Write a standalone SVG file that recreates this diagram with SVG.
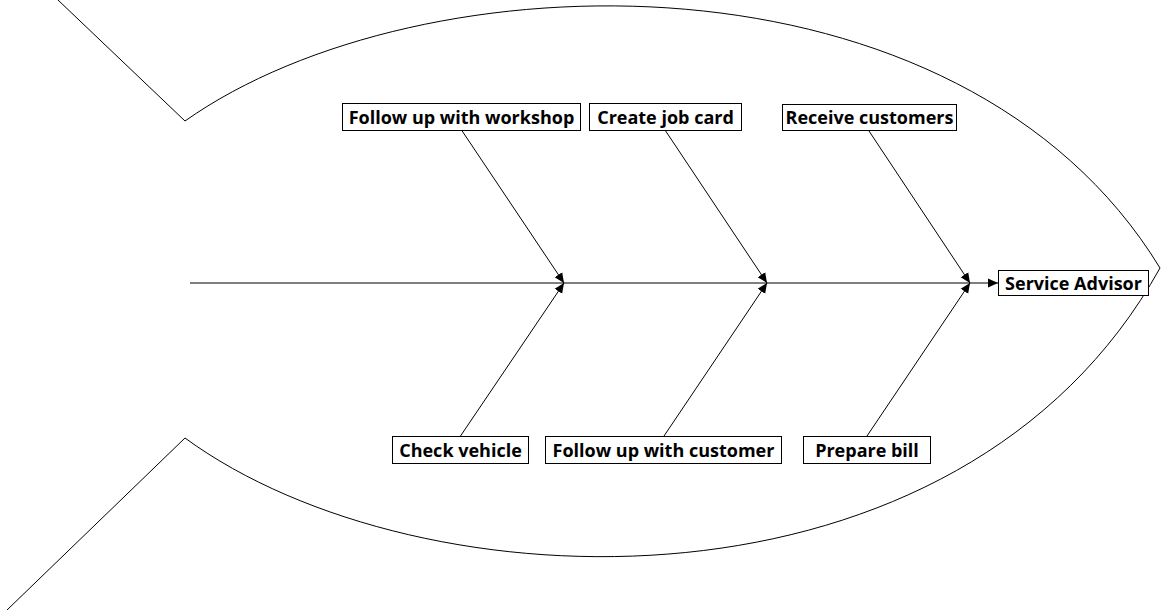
<svg xmlns="http://www.w3.org/2000/svg" width="1161" height="611" viewBox="0 0 1161 611">
<style>
.box{fill:#fff;stroke:#000;stroke-width:1}
.lbl{font-family:"Open Sans","DejaVu Sans",sans-serif;font-weight:bold;font-size:18px;fill:#000;text-anchor:middle}
.ln{fill:none;stroke:#000;stroke-width:1}
</style>
<defs>
<marker id="ah" viewBox="0 0 10 10" refX="10" refY="5" markerWidth="10" markerHeight="10" markerUnits="userSpaceOnUse" orient="auto">
<path d="M0,0.5 L10,5 L0,9.5 Z" fill="#000"/>
</marker>
</defs>
<g id="fish-outline">
<path class="ln" d="M58,0 L185,121 C420,-45 960,-60 1160,268 C960,628 420,610 185,438 L7,610"/>
</g>
<g id="connectors">
<line class="ln" x1="190" y1="283" x2="998" y2="283" marker-end="url(#ah)"/>
<line class="ln" x1="461.5" y1="130" x2="564" y2="283" marker-end="url(#ah)"/>
<line class="ln" x1="665" y1="130" x2="767" y2="283" marker-end="url(#ah)"/>
<line class="ln" x1="869" y1="131" x2="970" y2="283" marker-end="url(#ah)"/>
<line class="ln" x1="460.5" y1="436" x2="564" y2="283" marker-end="url(#ah)"/>
<line class="ln" x1="664" y1="436" x2="767" y2="283" marker-end="url(#ah)"/>
<line class="ln" x1="867" y1="436" x2="970" y2="283" marker-end="url(#ah)"/>
</g>
<g id="node-service-advisor">
<rect class="box" x="998.5" y="270.5" width="150" height="25"/>
<text class="lbl" x="1073.5" y="289.5">Service Advisor</text>
</g>
<g id="node-follow-up-workshop">
<rect class="box" x="342.5" y="103.5" width="238" height="27"/>
<text class="lbl" x="461.5" y="123.5">Follow up with workshop</text>
</g>
<g id="node-create-job-card">
<rect class="box" x="589.5" y="103.5" width="152" height="27"/>
<text class="lbl" x="665.5" y="123.5">Create job card</text>
</g>
<g id="node-receive-customers">
<rect class="box" x="782.5" y="104.5" width="174" height="26"/>
<text class="lbl" x="869.5" y="124">Receive customers</text>
</g>
<g id="node-check-vehicle">
<rect class="box" x="392.5" y="436.5" width="136" height="27"/>
<text class="lbl" x="460.5" y="456.5">Check vehicle</text>
</g>
<g id="node-follow-up-customer">
<rect class="box" x="545.5" y="436.5" width="236" height="27"/>
<text class="lbl" x="663.5" y="456.5">Follow up with customer</text>
</g>
<g id="node-prepare-bill">
<rect class="box" x="803.5" y="436.5" width="127" height="27"/>
<text class="lbl" x="867" y="456.5">Prepare bill</text>
</g>
</svg>
